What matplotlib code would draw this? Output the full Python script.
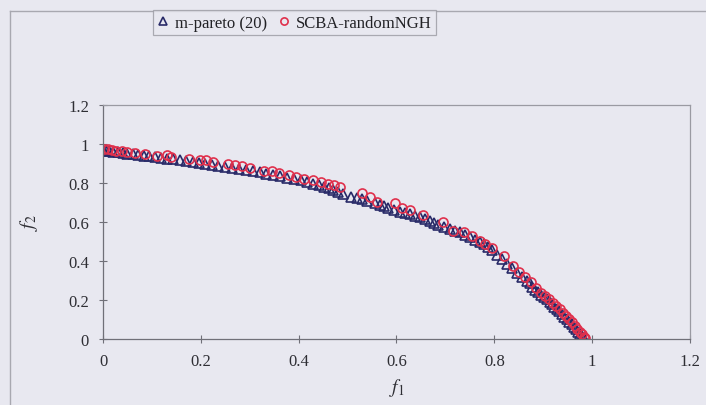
import matplotlib
matplotlib.use("Agg")
import matplotlib.pyplot as plt
from matplotlib.lines import Line2D

# m-pareto (20) front
mp_f1 = [0.000, 0.006, 0.013, 0.021, 0.030, 0.040, 0.050, 0.061, 0.072, 0.083,
         0.095, 0.107, 0.119, 0.131, 0.144, 0.157, 0.170, 0.183, 0.196, 0.209,
         0.222, 0.236, 0.250, 0.264, 0.278, 0.292, 0.306, 0.320, 0.334, 0.348,
         0.362, 0.376, 0.390, 0.404, 0.418, 0.430, 0.442,
         0.452, 0.462, 0.470, 0.480, 0.490, 0.508, 0.519, 0.530, 0.540, 0.556,
         0.566, 0.575, 0.583, 0.595, 0.607,
         0.618, 0.628, 0.638, 0.648, 0.658, 0.668, 0.676, 0.685, 0.697, 0.709,
         0.720, 0.730, 0.740, 0.750, 0.760, 0.770, 0.779, 0.787, 0.795,
         0.805, 0.815, 0.826, 0.836, 0.846, 0.856, 0.867, 0.872, 0.878, 0.883,
         0.889, 0.895, 0.901, 0.907, 0.913, 0.918, 0.923, 0.928, 0.933, 0.938,
         0.943, 0.948, 0.953, 0.958, 0.963, 0.968, 0.972, 0.976, 0.980, 0.984]
mp_f2 = [0.968, 0.966, 0.963, 0.961, 0.958, 0.954, 0.951, 0.948, 0.944, 0.940,
         0.937, 0.933, 0.929, 0.925, 0.921, 0.916, 0.912, 0.907, 0.903, 0.898,
         0.893, 0.888, 0.883, 0.877, 0.871, 0.866, 0.860, 0.854, 0.848, 0.842,
         0.835, 0.828, 0.821, 0.814, 0.805, 0.797, 0.789,
         0.782, 0.774, 0.762, 0.755, 0.744, 0.730, 0.723, 0.716, 0.708, 0.697,
         0.688, 0.680, 0.672, 0.662, 0.651,
         0.646, 0.639, 0.632, 0.624, 0.614, 0.604, 0.594, 0.583, 0.573, 0.564,
         0.556, 0.547, 0.535, 0.523, 0.510, 0.497, 0.485, 0.474, 0.458,
         0.432, 0.410, 0.386, 0.362, 0.340, 0.320, 0.298, 0.285, 0.268, 0.252,
         0.240, 0.228, 0.216, 0.204, 0.190, 0.177, 0.165, 0.154, 0.141, 0.128,
         0.114, 0.100, 0.088, 0.076, 0.063, 0.050, 0.037, 0.025, 0.014, 0.005]

# SCBA-randomNGH front
sc_f1 = [0.002, 0.010, 0.018, 0.027, 0.038, 0.050, 0.065, 0.085, 0.110, 0.130,
         0.140, 0.175, 0.198, 0.210, 0.225, 0.255, 0.270, 0.285, 0.300, 0.330,
         0.345, 0.360, 0.380, 0.395, 0.410, 0.430, 0.445, 0.460, 0.472, 0.484,
         0.530, 0.546, 0.560, 0.597, 0.612, 0.628,
         0.655, 0.695, 0.715, 0.738, 0.755, 0.770, 0.780, 0.795,
         0.820, 0.838, 0.850, 0.862, 0.875, 0.886, 0.896, 0.904, 0.912, 0.920,
         0.927, 0.934, 0.941, 0.947, 0.953, 0.959, 0.965, 0.970, 0.975, 0.979,
         0.983, 0.986]
sc_f2 = [0.975, 0.972, 0.970, 0.966, 0.962, 0.958, 0.952, 0.947, 0.941, 0.946,
         0.933, 0.925, 0.920, 0.917, 0.910, 0.896, 0.892, 0.886, 0.878, 0.864,
         0.860, 0.852, 0.840, 0.832, 0.822, 0.815, 0.805, 0.795, 0.790, 0.780,
         0.749, 0.728, 0.702, 0.697, 0.672, 0.660,
         0.635, 0.600, 0.554, 0.548, 0.530, 0.505, 0.487, 0.465,
         0.425, 0.372, 0.345, 0.318, 0.290, 0.262, 0.238, 0.222, 0.205, 0.185,
         0.170, 0.152, 0.132, 0.118, 0.100, 0.085, 0.068, 0.052, 0.037, 0.024,
         0.012, 0.004]

x_ticks = [0, 0.2, 0.4, 0.6, 0.8, 1, 1.2]
x_tick_labels = ["0", "0.2", "0.4", "0.6", "0.8", "1", "1.2"]
y_ticks = [0, 0.2, 0.4, 0.6, 0.8, 1, 1.2]
y_tick_labels = ["0", "0.2", "0.4", "0.6", "0.8", "1", "1.2"]

BG = "#e8e8f0"
plt.rcParams["font.family"] = ["Liberation Serif", "DejaVu Serif"]
plt.rcParams["mathtext.fontset"] = "stix"

fig = plt.figure(figsize=(7.06, 4.06), dpi=100, facecolor=BG)
ax = fig.add_axes([0.1459, 0.1626, 0.8314, 0.5763])
ax.set_facecolor(BG)

ax.plot(mp_f1, mp_f2, linestyle="none", marker="^", markersize=6.5,
        markerfacecolor="none", markeredgecolor="#282a68", markeredgewidth=1.2,
        label="m-pareto (20)")
ax.plot(sc_f1, sc_f2, linestyle="none", marker="o", markersize=6.5,
        markerfacecolor="none", markeredgecolor="#e0304c", markeredgewidth=1.2,
        label="SCBA-randomNGH")

ax.set_xlim(0, 1.2)
ax.set_ylim(0, 1.2)
ax.set_xticks(x_ticks)
ax.set_xticklabels(x_tick_labels)
ax.set_yticks(y_ticks)
ax.set_yticklabels(y_tick_labels)

for side in ["left", "bottom"]:
    ax.spines[side].set_color("#707078")
    ax.spines[side].set_linewidth(0.9)
for side in ["top", "right"]:
    ax.spines[side].set_color("#9a9aa2")
    ax.spines[side].set_linewidth(0.9)

ax.tick_params(axis="both", direction="inout", length=6, width=0.8,
               color="#707078", labelsize=12, labelcolor="#2e2e34", pad=7)

ax.set_xlabel("$f_1$", fontsize=14, color="#2e2e34", labelpad=5)
ax.set_ylabel("$f_2$", fontsize=14, color="#2e2e34", labelpad=20)

leg = fig.legend(loc="center", bbox_to_anchor=(0.417, 0.942), ncol=2,
                 fontsize=12, frameon=True, fancybox=False,
                 handlelength=0.7, handletextpad=0.35, columnspacing=0.7,
                 borderpad=0.25, labelcolor="#222226", markerscale=0.8)
leg.get_frame().set_edgecolor("#9a9aa2")
leg.get_frame().set_facecolor(BG)
leg.get_frame().set_linewidth(0.9)

# Outer chart-area border
fig.add_artist(Line2D([0.014, 0.014], [0.0, 0.970], transform=fig.transFigure,
                      color="#a8a8b0", linewidth=1.0))
fig.add_artist(Line2D([0.014, 1.0], [0.970, 0.970], transform=fig.transFigure,
                      color="#a8a8b0", linewidth=1.0))

fig.savefig("out.png", dpi=100, facecolor=BG)
